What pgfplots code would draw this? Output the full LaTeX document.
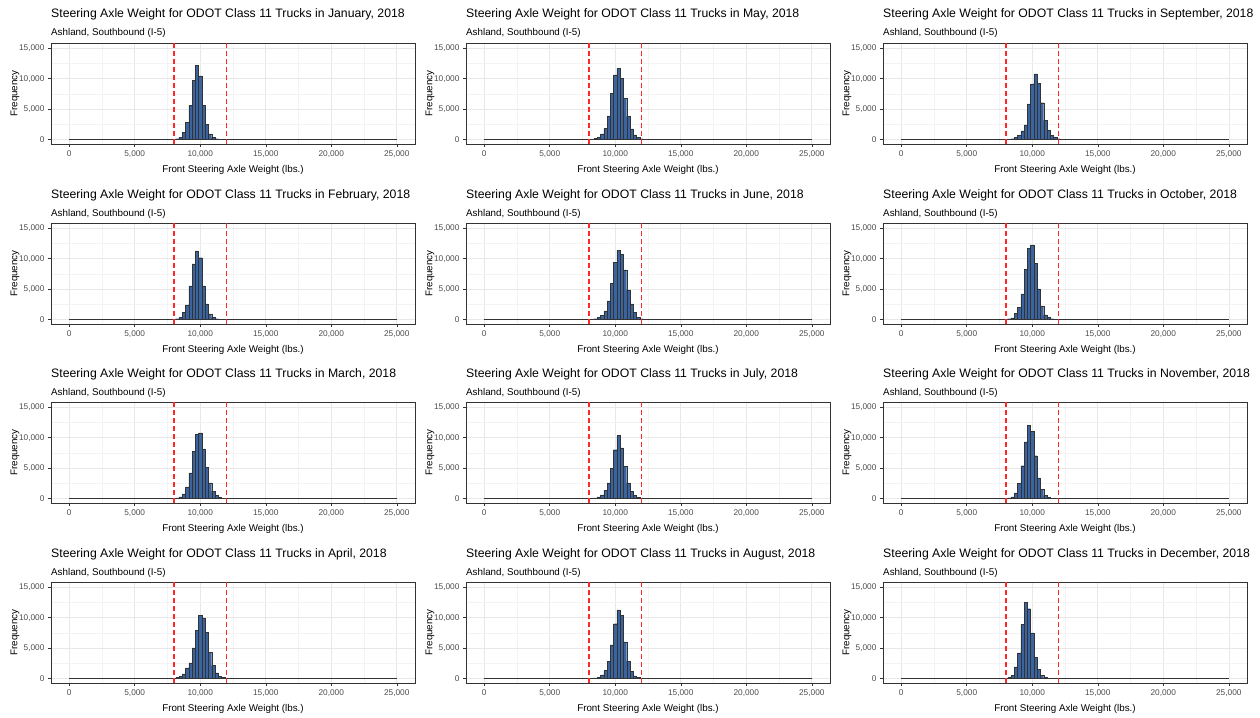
\documentclass[border=0pt]{standalone}
\usepackage{fontspec}
\setmainfont{Liberation Sans}
\usepackage{pgfplots}
\usepackage{pgfplotstable}
\pgfplotsset{compat=1.18}

\definecolor{barfill}{RGB}{58,100,160}
\definecolor{refred}{RGB}{255,40,40}
\definecolor{grey20}{RGB}{51,51,51}
\definecolor{grey30}{RGB}{77,77,77}
\definecolor{gridmaj}{RGB}{232,232,232}
\definecolor{gridmin}{RGB}{243,243,243}

% bin left edge, count (bin width 250 lbs)
\pgfplotstableread{
x y
8125 100
8375 330
8625 1150
8875 2750
9125 5600
9375 9670
9625 12200
9875 10440
10125 5600
10375 2470
10625 880
10875 330
11125 100
11375 0
}\tJan
\pgfplotstableread{
x y
8125 100
8375 330
8625 1100
8875 2360
9125 5500
9375 9120
9625 11300
9875 10160
10125 5500
10375 2530
10625 880
10875 330
11125 100
11375 0
}\tFeb
\pgfplotstableread{
x y
8125 55
8375 220
8625 715
8875 1870
9125 4180
9375 7750
9625 10500
9875 10770
10125 8130
10375 5160
10625 2530
10875 1150
11125 500
11375 165
11625 0
}\tMar
\pgfplotstableread{
x y
8125 110
8375 275
8625 715
8875 1700
9125 2530
9375 5000
9625 7900
9875 10330
10125 9950
10375 7580
10625 4290
10875 2090
11125 880
11375 330
11625 110
11875 0
}\tApr
\pgfplotstableread{
x y
8375 150
8625 330
8875 880
9125 1800
9375 3850
9625 7580
9875 10600
10125 11700
10375 10050
10625 6760
10875 3740
11125 1700
11375 715
11625 275
11875 100
12125 0
}\tMay
\pgfplotstableread{
x y
8375 100
8625 275
8875 660
9125 1370
9375 3020
9625 5930
9875 9400
10125 11320
10375 10660
10625 8130
10875 4840
11125 2530
11375 1100
11625 330
11875 100
12125 0
}\tJun
\pgfplotstableread{
x y
8375 55
8625 220
8875 550
9125 1320
9375 2530
9625 4890
9875 8020
10125 10330
10375 8300
10625 5270
10875 2530
11125 1150
11375 440
11625 165
11875 55
12125 0
}\tJul
\pgfplotstableread{
x y
8375 55
8625 165
8875 550
9125 1300
9375 2800
9625 5500
9875 9000
10125 11300
10375 10400
10625 6000
10875 2800
11125 1100
11375 400
11625 150
11875 55
12125 0
}\tAug
\pgfplotstableread{
x y
8375 100
8625 275
8875 660
9125 1370
9375 2360
9625 5820
9875 9120
10125 10770
10375 9230
10625 6040
10875 3130
11125 1430
11375 660
11625 275
11875 100
12125 0
}\tSep
\pgfplotstableread{
x y
8125 100
8375 220
8625 990
8875 1980
9125 4180
9375 8240
9625 11700
9875 12250
10125 9230
10375 5000
10625 2200
10875 715
11125 275
11375 100
11625 50
11875 0
}\tOct
\pgfplotstableread{
x y
8125 55
8375 220
8625 880
8875 2420
9125 5380
9375 9290
9625 12030
9875 11040
10125 7030
10375 3350
10625 1430
10875 440
11125 110
11375 0
}\tNov
\pgfplotstableread{
x y
8125 165
8375 500
8625 1870
8875 4200
9125 8900
9375 12530
9625 11480
9875 7470
10125 3500
10375 1430
10625 440
10875 110
11125 0
}\tDec

\pgfplotsset{
  panel/.style={
    scale only axis, width=364pt, height=101pt, anchor=north west,
    xmin=-1390, xmax=26390, ymin=-775, ymax=15875,
    xtick={0,5000,...,25000}, ytick={0,5000,10000,15000},
    minor xtick={2500,7500,...,22500}, minor ytick={2500,7500,12500},
    xtick pos=bottom, ytick pos=left,
    grid=both, major grid style={gridmaj, line width=0.6pt},
    minor grid style={gridmin, line width=0.4pt},
    axis line style={grey20, line width=0.6pt},
    tick align=outside, major tick length=3pt, minor tick length=0pt,
    tick style={grey20, line width=0.5pt},
    scaled ticks=false,
    tick label style={grey30, font=\fontsize{8.3}{9}\selectfont},
    /pgf/number format/.cd, 1000 sep={,}, assume math mode=true, /pgfplots/.cd,
    xlabel={Front Steering Axle Weight (lbs.)}, ylabel={Frequency},
    label style={black, font=\fontsize{9.8}{11}\selectfont},
    xlabel style={at={(axis description cs:0.5,-0.257)}, anchor=center},
    ylabel style={at={(axis description cs:-0.099,0.5)}, anchor=center},
  },
  refline/.style={color=refred, line width=1.25pt, dash pattern=on 5pt off 3pt, mark=none},
}

\newcommand\panel[4]{%
  \begin{axis}[panel, at={(#1pt,-#2pt)}]
    \addplot[grey20, line width=0.6pt] coordinates {(0,0) (25000,0)};
    \addplot[ybar interval, fill=barfill, draw=grey20, line width=0.3pt] table {#4};
    \addplot[refline] coordinates {(8000,-775) (8000,15875)};
    \addplot[refline] coordinates {(12000,-775) (12000,15875)};
  \end{axis}
  \node[anchor=base west, inner sep=0pt, font=\fontsize{12.25}{14}\selectfont] at (#1pt,-#2pt+25pt)
    {Steering Axle Weight for ODOT Class 11 Trucks in #3, 2018};
  \node[anchor=base west, inner sep=0pt, font=\fontsize{9.8}{11}\selectfont] at (#1pt,-#2pt+7pt)
    {Ashland, Southbound (I-5)};
}

\begin{document}
\begin{tikzpicture}
  \path[use as bounding box] (0,0) rectangle (1260pt,-717pt);
  \panel{51}{43}{January}{\tJan}
  \panel{51}{223}{February}{\tFeb}
  \panel{51}{402}{March}{\tMar}
  \panel{51}{582}{April}{\tApr}
  \panel{466}{43}{May}{\tMay}
  \panel{466}{223}{June}{\tJun}
  \panel{466}{402}{July}{\tJul}
  \panel{466}{582}{August}{\tAug}
  \panel{883}{43}{September}{\tSep}
  \panel{883}{223}{October}{\tOct}
  \panel{883}{402}{November}{\tNov}
  \panel{883}{582}{December}{\tDec}
\end{tikzpicture}
\end{document}
